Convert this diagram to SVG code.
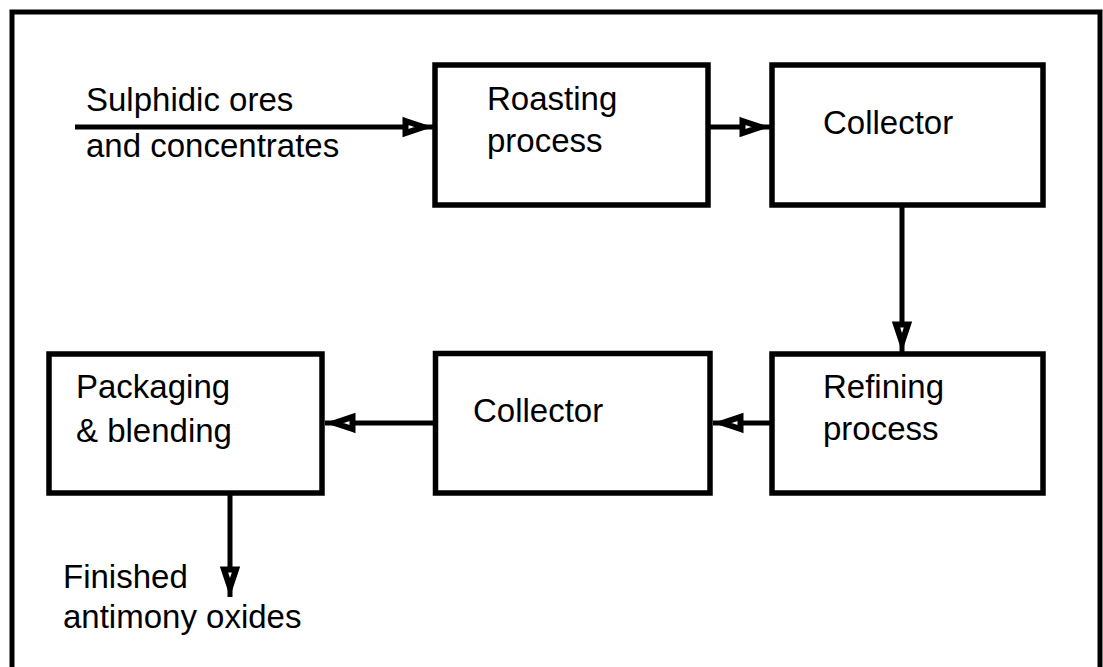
<svg xmlns="http://www.w3.org/2000/svg" width="1103" height="667" viewBox="0 0 1103 667">
  <style>
    .box { fill: #fff; stroke: #000; stroke-width: 5.5; }
    .lbl { font-family: "Liberation Sans", Arial, sans-serif; font-size: 33px; fill: #000; }
    .conn { stroke: #000; stroke-width: 5; fill: none; marker-end: url(#arr); }
  </style>
  <defs>
    <marker id="arr" markerUnits="userSpaceOnUse" markerWidth="40" markerHeight="30" refX="34.5" refY="15" orient="auto" overflow="visible">
      <polygon points="7,9 25,15 7,21" fill="#fff" stroke="#000" stroke-width="6"/>
    </marker>
  </defs>
  <rect x="0" y="0" width="1103" height="667" fill="#fff"/>
  <rect x="12" y="12" width="1088" height="720" fill="none" stroke="#000" stroke-width="5"/>

  <g id="connectors">
    <line class="conn" x1="75" y1="127" x2="433" y2="127"/>
    <line class="conn" x1="708" y1="127" x2="770" y2="127"/>
    <line class="conn" x1="902" y1="205" x2="902" y2="352"/>
    <line class="conn" x1="772" y1="423" x2="713" y2="423"/>
    <line class="conn" x1="435" y1="423" x2="325" y2="423"/>
    <line class="conn" x1="230" y1="493" x2="230" y2="597"/>
  </g>

  <g id="input-label">
    <text class="lbl" x="86" y="111">Sulphidic ores</text>
    <text class="lbl" x="86" y="157">and concentrates</text>
  </g>

  <g id="roasting">
    <rect class="box" x="435" y="65" width="273" height="140"/>
    <text class="lbl" x="487" y="110">Roasting</text>
    <text class="lbl" x="487" y="152">process</text>
  </g>

  <g id="collector1">
    <rect class="box" x="772" y="65" width="271" height="140"/>
    <text class="lbl" x="823" y="134">Collector</text>
  </g>

  <g id="refining">
    <rect class="box" x="772" y="354" width="271" height="139"/>
    <text class="lbl" x="823" y="398">Refining</text>
    <text class="lbl" x="823" y="440">process</text>
  </g>

  <g id="collector2">
    <rect class="box" x="435.5" y="353.5" width="274.5" height="139.5"/>
    <text class="lbl" x="473" y="422">Collector</text>
  </g>

  <g id="packaging">
    <rect class="box" x="49" y="354" width="273" height="139"/>
    <text class="lbl" x="76" y="398">Packaging</text>
    <text class="lbl" x="76" y="442">&amp; blending</text>
  </g>

  <g id="output-label">
    <text class="lbl" x="63" y="588">Finished</text>
    <text class="lbl" x="63" y="628">antimony oxides</text>
  </g>
</svg>
